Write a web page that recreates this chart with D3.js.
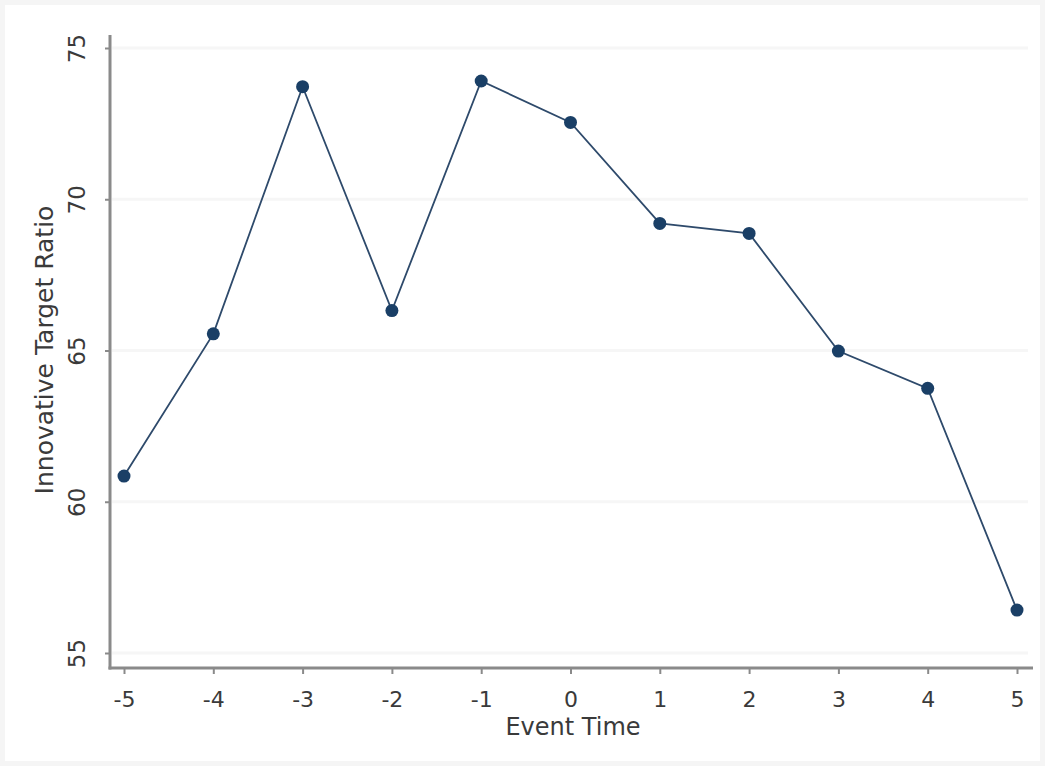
<!DOCTYPE html>
<html>
<head>
<meta charset="utf-8">
<script src="https://cdn.jsdelivr.net/npm/d3@7"></script>
<style>
html,body{margin:0;padding:0;background:#fff;}
svg{display:block;}
text{font-family:"DejaVu Sans",sans-serif;fill:#3a3a3a;}
</style>
</head>
<body>
<svg id="chart" width="1045" height="766"></svg>
<script>
const eventTimes = [-5,-4,-3,-2,-1,0,1,2,3,4,5];
const ratioValues = [60.85,65.55,73.72,66.32,73.91,72.54,69.20,68.87,64.98,63.75,56.42];
const yTicks = [55,60,65,70,75];
const xTicks = [-5,-4,-3,-2,-1,0,1,2,3,4,5];
const xTitle = "Event Time";
const yTitle = "Innovative Target Ratio";

const svg = d3.select("#chart");
const W = 1045, H = 766;
const fmt = d => String(d);

// outer faint frame
svg.append("rect").attr("x",2.5).attr("y",2.5).attr("width",W-5).attr("height",H-5)
  .attr("fill","#fff").attr("stroke","#f5f5f5").attr("stroke-width",5);

const x = d3.scaleLinear().domain([-5,5]).range([124,1017]);
const y = d3.scaleLinear().domain([55,75]).range([653,48]);

const axisX0 = 110, axisX1 = 1033, axisY0 = 35, axisY1 = 668;

// gridlines
svg.append("g").selectAll("line").data(yTicks).join("line")
  .attr("x1",axisX0+2).attr("x2",1028)
  .attr("y1",d=>y(d)).attr("y2",d=>y(d))
  .attr("stroke","#f6f6f6").attr("stroke-width",3);

// y axis
const yAxis = d3.axisLeft(y).tickValues(yTicks).tickSize(5).tickPadding(0).tickFormat(fmt);
const gy = svg.append("g").attr("transform",`translate(${axisX0},0)`).call(yAxis);
gy.select(".domain").remove();
gy.selectAll(".tick line").attr("stroke","#8a8a8a").attr("stroke-width",2);
gy.selectAll(".tick text").remove();
gy.selectAll(".tick").append("text")
  .attr("transform","translate(-33,0) rotate(-90)")
  .attr("text-anchor","middle").attr("dy","0.36em")
  .style("font-size","23px").text(fmt);
svg.append("line").attr("x1",axisX0).attr("x2",axisX0).attr("y1",axisY0).attr("y2",axisY1+1.5)
  .attr("stroke","#8a8a8a").attr("stroke-width",3);

// x axis
const xAxis = d3.axisBottom(x).tickValues(xTicks).tickSize(6).tickPadding(17).tickFormat(fmt);
const gx = svg.append("g").attr("transform",`translate(0,${axisY1})`).call(xAxis);
gx.select(".domain").remove();
gx.selectAll(".tick line").attr("stroke","#8a8a8a").attr("stroke-width",2);
gx.selectAll(".tick text").style("font-size","22px").attr("fill","#3a3a3a")
  .style("font-family","\"DejaVu Sans\",sans-serif");
svg.append("line").attr("x1",axisX0-1.5).attr("x2",axisX1).attr("y1",axisY1).attr("y2",axisY1)
  .attr("stroke","#8a8a8a").attr("stroke-width",3);

// titles
svg.append("text").attr("x",573).attr("y",735).attr("text-anchor","middle")
  .style("font-size","24px").text(xTitle);
svg.append("text").attr("transform",`translate(53,350) rotate(-90)`).attr("text-anchor","middle")
  .style("font-size","25px").text(yTitle);

// line + markers
const pts = eventTimes.map((t,i)=>({t, v: ratioValues[i]}));
const line = d3.line().x(d=>x(d.t)).y(d=>y(d.v));
svg.append("path").datum(pts).attr("d",line).attr("fill","none")
  .attr("stroke","#2e4a6b").attr("stroke-width",1.8);
svg.append("g").selectAll("circle").data(pts).join("circle")
  .attr("cx",d=>x(d.t)).attr("cy",d=>y(d.v)).attr("r",6.5)
  .attr("fill","#1a3f66");
</script>
</body>
</html>
